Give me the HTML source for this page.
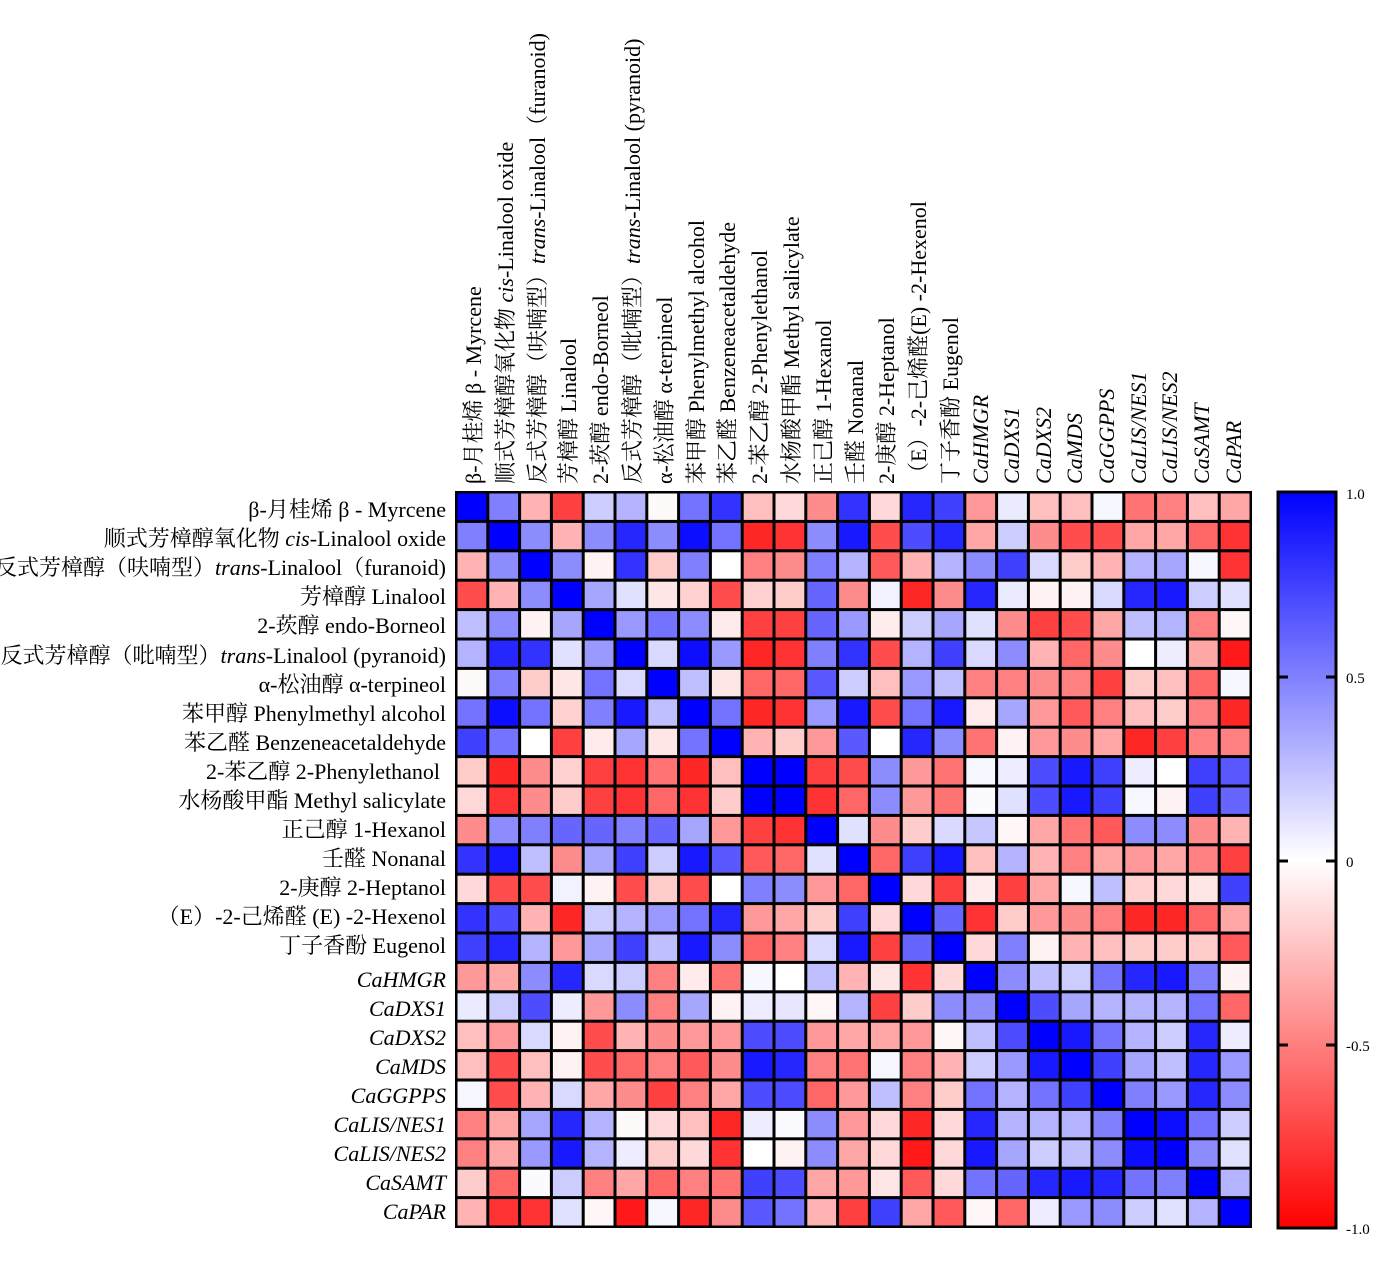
<!DOCTYPE html>
<html><head><meta charset="utf-8"><style>
html,body{margin:0;padding:0;background:#fff;}
svg{display:block;}
text{font-family:"Liberation Serif","Noto Serif CJK SC","Noto Sans CJK SC",serif;font-size:22px;fill:#000;}
.g{font-style:italic;}
.cb{font-size:15px;}
</style></head><body>
<svg id="s" width="1385" height="1262" viewBox="0 0 1385 1262" xmlns="http://www.w3.org/2000/svg">
<defs><linearGradient id="cbg" x1="0" y1="0" x2="0" y2="1">
<stop offset="0" stop-color="#0000ff"/><stop offset="0.5" stop-color="#ffffff"/><stop offset="1" stop-color="#ff0000"/></linearGradient></defs>
<rect x="455" y="491" width="797" height="737" fill="#000"/>
<g id="cells"></g>
<g text-anchor="end">
<text x="446" y="517">β-月桂烯 β - Myrcene</text>
<text x="446" y="546">顺式芳樟醇氧化物 <tspan font-style="italic">cis</tspan>-Linalool oxide</text>
<text x="446" y="575">反式芳樟醇（呋喃型）<tspan font-style="italic">trans</tspan>-Linalool（furanoid)</text>
<text x="446" y="604">芳樟醇 Linalool</text>
<text x="446" y="633">2-莰醇 endo-Borneol</text>
<text x="446" y="663">反式芳樟醇（吡喃型）<tspan font-style="italic">trans</tspan>-Linalool (pyranoid)</text>
<text x="446" y="692">α-松油醇 α-terpineol</text>
<text x="446" y="721">苯甲醇 Phenylmethyl alcohol</text>
<text x="446" y="750">苯乙醛 Benzeneacetaldehyde</text>
<text x="440" y="779">2-苯乙醇 2-Phenylethanol</text>
<text x="446" y="808">水杨酸甲酯 Methyl salicylate</text>
<text x="446" y="837">正己醇 1-Hexanol</text>
<text x="446" y="866">壬醛 Nonanal</text>
<text x="446" y="895">2-庚醇 2-Heptanol</text>
<text x="446" y="924">（E）-2-己烯醛 (E) -2-Hexenol</text>
<text x="446" y="953">丁子香酚 Eugenol</text>
<text class="g" x="446" y="987">CaHMGR</text>
<text class="g" x="446" y="1016">CaDXS1</text>
<text class="g" x="446" y="1045">CaDXS2</text>
<text class="g" x="446" y="1074">CaMDS</text>
<text class="g" x="446" y="1103">CaGGPPS</text>
<text class="g" x="446" y="1132">CaLIS/NES1</text>
<text class="g" x="446" y="1161">CaLIS/NES2</text>
<text class="g" x="446" y="1190">CaSAMT</text>
<text class="g" x="446" y="1219">CaPAR</text>
</g>
<g>
<text transform="translate(481,484) rotate(-90)">β-月桂烯 β - Myrcene</text>
<text transform="translate(513,484) rotate(-90)">顺式芳樟醇氧化物 <tspan font-style="italic">cis</tspan>-Linalool oxide</text>
<text transform="translate(545,484) rotate(-90)">反式芳樟醇（呋喃型）<tspan font-style="italic">trans</tspan>-Linalool（furanoid)</text>
<text transform="translate(576,484) rotate(-90)">芳樟醇 Linalool</text>
<text transform="translate(608,484) rotate(-90)">2-莰醇 endo-Borneol</text>
<text transform="translate(640,484) rotate(-90)">反式芳樟醇（吡喃型）<tspan font-style="italic">trans</tspan>-Linalool (pyranoid)</text>
<text transform="translate(672,484) rotate(-90)">α-松油醇 α-terpineol</text>
<text transform="translate(704,484) rotate(-90)">苯甲醇 Phenylmethyl alcohol</text>
<text transform="translate(735,484) rotate(-90)">苯乙醛 Benzeneacetaldehyde</text>
<text transform="translate(767,484) rotate(-90)">2-苯乙醇 2-Phenylethanol</text>
<text transform="translate(799,484) rotate(-90)">水杨酸甲酯 Methyl salicylate</text>
<text transform="translate(831,484) rotate(-90)">正己醇 1-Hexanol</text>
<text transform="translate(863,484) rotate(-90)">壬醛 Nonanal</text>
<text transform="translate(894,484) rotate(-90)">2-庚醇 2-Heptanol</text>
<text transform="translate(926,484) rotate(-90)">（E）-2-己烯醛(E) -2-Hexenol</text>
<text transform="translate(958,484) rotate(-90)">丁子香酚 Eugenol</text>
<text class="g" transform="translate(988,484) rotate(-90)">CaHMGR</text>
<text class="g" transform="translate(1019,484) rotate(-90)">CaDXS1</text>
<text class="g" transform="translate(1051,484) rotate(-90)">CaDXS2</text>
<text class="g" transform="translate(1082,484) rotate(-90)">CaMDS</text>
<text class="g" transform="translate(1114,484) rotate(-90)">CaGGPPS</text>
<text class="g" transform="translate(1146,484) rotate(-90)">CaLIS/NES1</text>
<text class="g" transform="translate(1177,484) rotate(-90)">CaLIS/NES2</text>
<text class="g" transform="translate(1209,484) rotate(-90)">CaSAMT</text>
<text class="g" transform="translate(1241,484) rotate(-90)">CaPAR</text>
</g>
<rect x="1278" y="492" width="58" height="736" fill="url(#cbg)" stroke="#000" stroke-width="3"/>
<g stroke="#000" stroke-width="3">
<line x1="1278" y1="677" x2="1288" y2="677"/><line x1="1326" y1="677" x2="1336" y2="677"/>
<line x1="1278" y1="861" x2="1288" y2="861"/><line x1="1326" y1="861" x2="1336" y2="861"/>
<line x1="1278" y1="1045" x2="1288" y2="1045"/><line x1="1326" y1="1045" x2="1336" y2="1045"/>
</g>
<text class="cb" x="1346" y="499">1.0</text>
<text class="cb" x="1346" y="683">0.5</text>
<text class="cb" x="1346" y="867">0</text>
<text class="cb" x="1346" y="1051">-0.5</text>
<text class="cb" x="1346" y="1234">-1.0</text>
</svg>
<script>
var M=[
[1,.5,-.3,-.75,.2,.3,-.02,.55,.8,-.25,-.15,-.45,.8,-.15,.85,.75,-.4,.08,-.25,-.25,.03,-.55,-.5,-.25,-.35],
[.5,1,.45,-.3,.45,.85,.45,.95,.55,-.85,-.8,.45,.9,-.7,.7,.85,-.35,.2,-.45,-.7,-.7,-.35,-.35,-.6,-.8],
[-.3,.45,1,.45,-.05,.8,-.2,.5,0,-.5,-.45,.5,.3,-.65,-.3,.3,.45,.75,.15,-.2,-.3,.3,.35,.03,-.8],
[-.7,-.3,.45,1,.35,.12,-.1,-.18,-.7,-.18,-.2,.6,-.45,.05,-.85,-.45,.85,.08,-.05,-.05,.15,.85,.9,.2,.12],
[.25,.45,-.05,.35,1,.4,.55,.45,-.08,-.75,-.75,.6,.4,-.07,.2,.35,.12,-.45,-.75,-.7,-.35,.25,.3,-.5,-.03],
[.3,.85,.8,.12,.4,1,.15,.95,.4,-.85,-.8,.5,.8,-.7,.3,.75,.15,.45,-.3,-.6,-.45,0,.07,-.35,-.9],
[-.02,.5,-.2,-.1,.55,.15,1,.25,-.1,-.6,-.6,.65,.2,-.25,.4,.25,-.5,-.5,-.45,-.5,-.75,-.2,-.25,-.6,.03],
[.55,.95,.55,-.18,.5,.9,.25,1,.55,-.85,-.8,.4,.9,-.7,.55,.9,-.08,.35,-.4,-.65,-.5,-.25,-.2,-.5,-.85],
[.75,.55,0,-.75,-.08,.35,-.1,.55,1,-.3,-.2,-.4,.65,0,.85,.45,-.55,-.05,-.4,-.45,-.35,-.85,-.75,-.5,-.5],
[-.2,-.85,-.45,-.18,-.75,-.8,-.55,-.85,-.25,1,1,-.75,-.7,.45,-.4,-.55,.03,.07,.7,.9,.75,.07,0,.75,.65],
[-.15,-.8,-.45,-.2,-.75,-.8,-.6,-.8,-.2,1,1,-.8,-.6,.45,-.4,-.55,.02,.12,.7,.9,.75,.03,-.05,.75,.6],
[-.45,.45,.5,.6,.6,.5,.6,.35,-.4,-.75,-.8,1,.12,-.45,-.2,.15,.22,-.03,-.35,-.55,-.65,.45,.45,-.45,-.3],
[.8,.9,.25,-.45,.35,.75,.2,.9,.65,-.65,-.6,.12,1,-.6,.75,.9,-.25,.3,-.3,-.5,-.35,-.4,-.35,-.5,-.75],
[-.15,-.7,-.7,.05,-.05,-.7,-.2,-.7,0,.5,.45,-.4,-.6,1,-.15,-.75,-.08,-.75,-.35,.03,.25,-.18,-.15,-.1,.75],
[.8,.7,-.3,-.85,.2,.3,.4,.55,.85,-.4,-.35,-.2,.75,-.15,1,.6,-.8,-.2,-.4,-.45,-.5,-.85,-.85,-.6,-.35],
[.75,.85,.3,-.4,.35,.75,.25,.9,.45,-.6,-.5,.15,.9,-.75,.6,1,-.15,.5,-.05,-.3,-.25,-.2,-.2,-.2,-.65],
[-.4,-.35,.45,.85,.15,.2,-.5,-.08,-.55,.03,0,.25,-.3,-.1,-.8,-.15,1,.45,.25,.2,.55,.85,.9,.5,-.05],
[.08,.2,.7,.07,-.4,.45,-.5,.35,-.05,.07,.1,-.03,.3,-.75,-.2,.45,.45,1,.7,.35,.3,.3,.3,.55,-.6],
[-.25,-.4,.15,-.05,-.7,-.3,-.45,-.4,-.4,.7,.7,-.4,-.35,-.35,-.4,-.03,.25,.7,1,.9,.55,.3,.2,.85,.07],
[-.25,-.7,-.25,-.05,-.7,-.6,-.5,-.65,-.45,.9,.85,-.5,-.55,.03,-.5,-.3,.2,.4,.9,1,.75,.35,.25,.85,.4],
[.03,-.7,-.3,.15,-.35,-.45,-.75,-.5,-.35,.7,.7,-.6,-.4,.25,-.5,-.2,.55,.3,.55,.75,1,.5,.4,.85,.45],
[-.5,-.35,.35,.85,.3,-.02,-.15,-.25,-.85,.07,.02,.45,-.4,-.15,-.85,-.15,.85,.3,.3,.3,.5,1,.95,.55,.2],
[-.5,-.35,.4,.9,.3,.07,-.2,-.15,-.8,0,-.05,.45,-.35,-.15,-.9,-.15,.9,.35,.2,.25,.45,.95,1,.45,.12],
[-.2,-.6,.02,.2,-.5,-.35,-.6,-.5,-.55,.75,.7,-.35,-.4,-.1,-.65,-.15,.55,.6,.85,.9,.85,.55,.5,1,.3],
[-.3,-.8,-.8,.12,-.03,-.9,.03,-.85,-.45,.65,.55,-.3,-.75,.75,-.35,-.65,-.03,-.6,.07,.4,.45,.2,.12,.3,1]];
var g=document.getElementById('cells'),h='';
var x0=456,y0=492,cw=31.8,ch=29.4;
for(var r=0;r<25;r++)for(var c=0;c<25;c++){var v=M[r][c],R,G,B;
if(v>=0){R=G=Math.round(255*(1-v));B=255;}else{R=255;G=B=Math.round(255*(1+v));}
h+='<rect x="'+(x0+c*cw+1.5).toFixed(1)+'" y="'+(y0+r*ch+1.5).toFixed(1)+'" width="'+(cw-3).toFixed(1)+'" height="'+(ch-3).toFixed(1)+'" fill="rgb('+R+','+G+','+B+')"/>';}
g.innerHTML=h;
</script>
</body></html>
